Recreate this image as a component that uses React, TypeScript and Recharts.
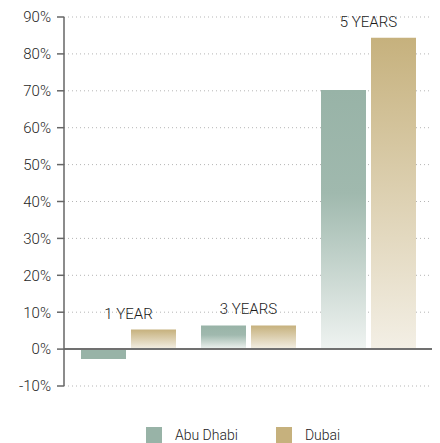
import React from "react"
import {
  BarChart,
  Bar,
  XAxis,
  YAxis,
  CartesianGrid,
  ReferenceLine,
  LabelList,
  Cell,
} from "recharts"

const periods = ["1 YEAR", "3 YEARS", "5 YEARS"]
const abuDhabi = [-2.7, 6.4, 70.2]
const dubai = [5.3, 6.4, 84.4]
const yTicks = [-10, 0, 10, 20, 30, 40, 50, 60, 70, 80, 90]

const data = periods.map((period, i) => ({
  period,
  abuDhabi: abuDhabi[i],
  dubai: dubai[i],
}))

const ABU_COLOR = "#98b3a7"
const DUBAI_COLOR = "#c6b17d"
const FONT = "Roboto, 'Liberation Sans', Arial, sans-serif"

// period name centred over each pair, placed off the top of the Dubai bar
function PeriodLabel(props: any) {
  const { x, y, value } = props
  const cx = Number(x) - 2.5
  return (
    <text
      x={cx}
      y={Number(y) - 11}
      textAnchor="middle"
      fontSize={15}
      fontWeight={300}
      fontFamily={FONT}
      fill="#1a1a1a"
    >
      {value}
    </text>
  )
}

function ChartLegend() {
  const items = [
    { label: "Abu Dhabi", color: ABU_COLOR },
    { label: "Dubai", color: DUBAI_COLOR },
  ]
  return (
    <div
      style={{
        position: "absolute",
        top: 427,
        left: 146,
        display: "flex",
        fontFamily: FONT,
        fontWeight: 300,
        fontSize: 14,
        color: "#222",
      }}
    >
      {items.map((it) => (
        <div key={it.label} style={{ display: "flex", alignItems: "center", marginRight: 38 }}>
          <span style={{ width: 16, height: 16, background: it.color, display: "inline-block", marginRight: 13 }} />
          <span>{it.label}</span>
        </div>
      ))}
    </div>
  )
}

export default function App() {
  return (
    <div style={{ position: "absolute", left: 0, top: 0, width: 440, height: 443, background: "#fff" }}>
      <BarChart
        width={440}
        height={443}
        data={data}
        margin={{ top: 17, right: 8, bottom: 57, left: 0 }}
        barSize={45}
        barGap={5}
      >
        <defs>
          <linearGradient id="abuFill" x1="0" y1="0" x2="0" y2="1">
            <stop offset="0%" stopColor={ABU_COLOR} />
            <stop offset="40%" stopColor="#a0b9ae" />
            <stop offset="100%" stopColor="#eff3f1" />
          </linearGradient>
          <linearGradient id="dubaiFill" x1="0" y1="0" x2="0" y2="1">
            <stop offset="0%" stopColor={DUBAI_COLOR} />
            <stop offset="100%" stopColor="#f3efe5" />
          </linearGradient>
        </defs>
        <XAxis dataKey="period" hide padding={{ left: 4, right: 4 }} />
        <YAxis
          type="number"
          domain={[-10, 90]}
          ticks={yTicks}
          interval={0}
          width={64}
          tickFormatter={(v) => `${v}%`}
          tick={{ fontSize: 15, fill: "#1f1f1f", fontFamily: FONT, fontWeight: 300 }}
          tickSize={7}
          tickMargin={6}
          axisLine={{ stroke: "#666", strokeWidth: 1.5 }}
          tickLine={{ stroke: "#666", strokeWidth: 1.5 }}
        />
        <Bar dataKey="abuDhabi" name="Abu Dhabi" isAnimationActive={false}>
          {abuDhabi.map((v, i) => (
            <Cell key={i} fill={v < 0 ? ABU_COLOR : "url(#abuFill)"} />
          ))}
        </Bar>
        <Bar dataKey="dubai" name="Dubai" fill="url(#dubaiFill)" isAnimationActive={false}>
          <LabelList dataKey="period" content={PeriodLabel} />
        </Bar>
        <CartesianGrid vertical={false} stroke="#b5b5b5" strokeDasharray="1 3" />
        <ReferenceLine y={0} stroke="#707070" strokeWidth={2} />
      </BarChart>
      <ChartLegend />
    </div>
  )
}
